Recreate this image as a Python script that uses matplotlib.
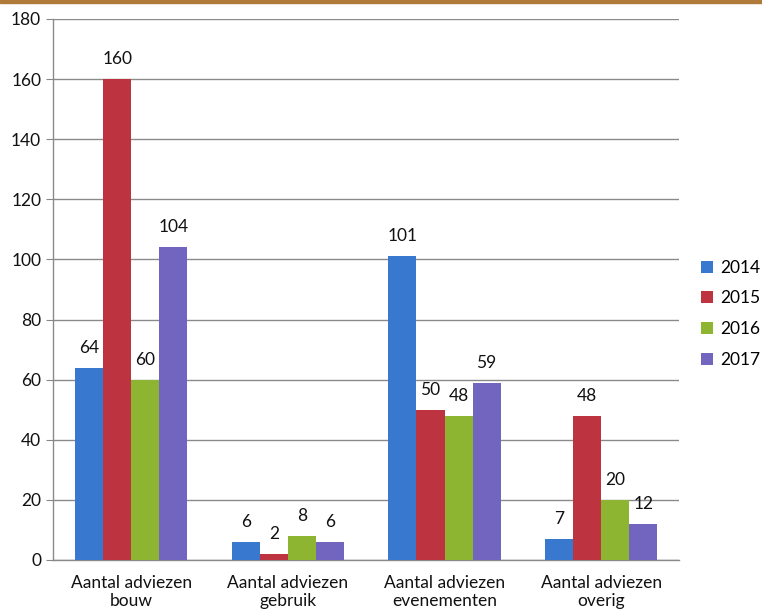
import matplotlib
matplotlib.use("Agg")
import matplotlib.pyplot as plt
import numpy as np
from matplotlib.patches import Rectangle

categories = ["Aantal adviezen\nbouw", "Aantal adviezen\ngebruik",
              "Aantal adviezen\nevenementen", "Aantal adviezen\noverig"]
years = ["2014", "2015", "2016", "2017"]
v2014 = [64, 6, 101, 7]
v2015 = [160, 2, 50, 48]
v2016 = [60, 8, 48, 20]
v2017 = [104, 6, 59, 12]
series = [v2014, v2015, v2016, v2017]
colors = ["#3879CF", "#BD3440", "#8DB532", "#7165C0"]

plt.rcParams['font.family'] = ['Lato', 'DejaVu Sans']
txt = "#111111"

fig = plt.figure(figsize=(7.62, 6.11), dpi=100)
fig.patches.append(Rectangle((0, 0.995), 1, 0.005, transform=fig.transFigure,
                             color="#B07A3A", zorder=0))
ax = fig.add_axes([0.0696, 0.0835, 0.822, 0.8855])

x = np.arange(len(categories))
w = 0.179
for i, (vals, c, yr) in enumerate(zip(series, colors, years)):
    pos = x + (i - 1.5) * w
    ax.bar(pos, vals, width=w, color=c, label=yr, zorder=3)
    for p, v in zip(pos, vals):
        ax.text(p, v + 4, str(v), ha="center", va="bottom", fontsize=12.5,
                color=txt, zorder=4)

ax.set_xlim(-0.5, 3.5)
ax.set_ylim(0, 180)
ax.set_yticks(range(0, 181, 20))
ax.set_xticks(x)
ax.set_xticklabels(categories, fontsize=12.5, color=txt, linespacing=1.15)
ax.tick_params(axis="y", labelsize=12.5, colors=txt, length=5, color="#888888")
ax.tick_params(axis="x", length=0, pad=11)
ax.grid(axis="y", color="#8a8a8a", linewidth=1, zorder=0)
for s in ["top", "right"]:
    ax.spines[s].set_visible(False)
for s in ["left", "bottom"]:
    ax.spines[s].set_color("#8a8a8a")
    ax.spines[s].set_linewidth(1)

ax.legend(loc="center left", bbox_to_anchor=(1.01, 0.455), frameon=False,
          fontsize=12.5, handlelength=0.7, handleheight=0.7,
          handletextpad=0.4, labelspacing=0.85)

fig.savefig("out.png", dpi=100)
